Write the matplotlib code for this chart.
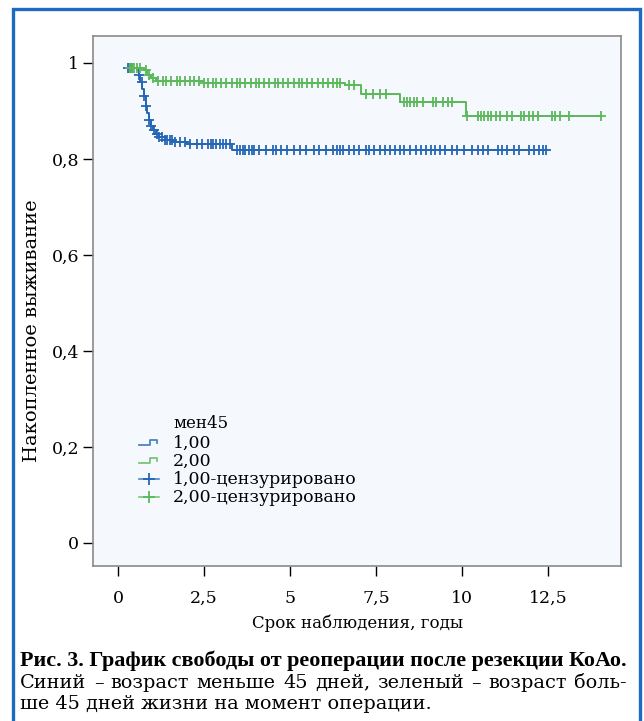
import numpy as np
import matplotlib
matplotlib.use("Agg")
import matplotlib.pyplot as plt
from matplotlib.patches import Rectangle

plt.rcParams["font.family"] = ["DejaVu Serif"]

# Kaplan-Meier steps (years, cumulative survival)
blue_t = [0.28, 0.55, 0.60, 0.65, 0.70, 0.75, 0.80, 0.85, 0.90, 0.95, 1.00,
          1.10, 1.20, 1.35, 1.60, 2.00, 3.30, 12.45]
blue_s = [0.990, 0.985, 0.975, 0.960, 0.945, 0.930, 0.910, 0.895, 0.880,
          0.868, 0.860, 0.852, 0.845, 0.840, 0.835, 0.830, 0.818, 0.818]

green_t = [0.28, 0.75, 0.85, 0.95, 1.10, 2.50, 6.60, 7.05, 8.20, 10.10, 14.05]
green_s = [0.990, 0.985, 0.975, 0.968, 0.962, 0.958, 0.953, 0.935, 0.918,
           0.890, 0.890]

blue_cens = [0.30, 0.35, 0.40, 0.60, 0.68, 0.75, 0.82, 0.90, 0.97, 1.05, 1.12,
             1.20, 1.28, 1.35, 1.42, 1.50, 1.58, 1.65, 1.80, 1.95, 2.10, 2.30,
             2.45, 2.60, 2.70, 2.75, 2.85, 2.95, 3.05, 3.15, 3.25, 3.45, 3.55,
             3.62, 3.70, 3.80, 3.88, 3.95, 4.10, 4.30, 4.50, 4.60, 4.75, 4.90,
             5.10, 5.30, 5.45, 5.70, 5.85, 6.05, 6.25, 6.35, 6.45, 6.55, 6.70,
             6.85, 7.00, 7.20, 7.30, 7.45, 7.60, 7.75, 7.90, 8.05, 8.20, 8.30,
             8.50, 8.65, 8.80, 8.95, 9.10, 9.20, 9.35, 9.50, 9.70, 9.85, 10.05,
             10.30, 10.45, 10.60, 10.75, 11.05, 11.15, 11.30, 11.50, 11.65,
             11.95, 12.10, 12.25, 12.35, 12.45]

green_cens = [0.35, 0.40, 0.45, 0.55, 0.65, 0.80, 0.90, 1.00, 1.15, 1.30, 1.40,
              1.55, 1.70, 1.80, 1.95, 2.10, 2.20, 2.35, 2.50, 2.60, 2.75, 2.85,
              3.00, 3.15, 3.30, 3.45, 3.55, 3.70, 3.85, 4.00, 4.10, 4.25, 4.40,
              4.55, 4.65, 4.80, 4.95, 5.10, 5.25, 5.35, 5.50, 5.65, 5.80, 5.95,
              6.10, 6.25, 6.35, 6.45, 6.70, 6.85, 7.20, 7.40, 7.60, 7.80, 8.30,
              8.40, 8.50, 8.60, 8.70, 8.85, 9.15, 9.25, 9.45, 9.60, 9.70, 10.15,
              10.45, 10.55, 10.65, 10.75, 10.85, 11.00, 11.10, 11.30, 11.45,
              11.70, 11.80, 11.95, 12.05, 12.20, 12.60, 12.70, 12.85, 13.10,
              14.05]

x_ticks = [0, 2.5, 5, 7.5, 10, 12.5]
x_labels = ["0", "2,5", "5", "7,5", "10", "12,5"]
y_ticks = [0, 0.2, 0.4, 0.6, 0.8, 1.0]
y_labels = ["0", "0,2", "0,4", "0,6", "0,8", "1"]

legend_title = "мен45"
legend_labels = ["1,00", "2,00", "1,00-цензурировано", "2,00-цензурировано"]

caption_bold = "Рис. 3. График свободы от реоперации после резекции КоАо."
caption_lines = ["Синий – возраст меньше 45 дней, зеленый – возраст боль-",
                 "ше 45 дней жизни на момент операции."]

BLUE = "#2566b5"
GREEN = "#5cb85a"
W, H = 644, 721


def fx(x):
    return x / W


def fy(y):
    return 1 - y / H


def step_value(times, surv, at):
    idx = np.searchsorted(times, at, side="right") - 1
    return np.asarray(surv)[np.clip(idx, 0, len(surv) - 1)]


def fitted(fig, line, x0, x1, y, **kw):
    """Place text at x0 and scale its font so it ends at x1 (pixels)."""
    r = fig.canvas.get_renderer()
    t = fig.text(fx(x0), fy(y), line, ha="left", va="center", fontsize=10, **kw)
    t.set_fontsize(10 * (x1 - x0) / t.get_window_extent(r).width)
    return t.get_fontsize()


def justified(fig, line, x0, x1, y, **kw):
    """Lay the words of one line out flush between x0 and x1 (pixels)."""
    r = fig.canvas.get_renderer()
    words = line.split(" ")
    arts = [fig.text(0, fy(y), w, ha="left", va="center", **kw) for w in words]
    widths = [a.get_window_extent(r).width for a in arts]
    gap = (x1 - x0 - sum(widths)) / max(len(words) - 1, 1)
    x = x0
    for a, w in zip(arts, widths):
        a.set_x(fx(x))
        x += w + gap


fig = plt.figure(figsize=(W / 100, H / 100), dpi=100)
fig.patch.set_facecolor("white")

# blue frame round the whole figure
fig.patches.append(Rectangle((fx(13), fy(760)), fx(640) - fx(13), fy(9) - fy(760),
                             transform=fig.transFigure, fill=False,
                             edgecolor="#1b6cc0", lw=2.4))

ax = fig.add_axes([fx(93), fy(566), fx(621) - fx(93), fy(36) - fy(566)])
ax.set_facecolor("#f5f9fd")

ax.step(blue_t, blue_s, where="post", color=BLUE, lw=1.4)
ax.step(green_t, green_s, where="post", color=GREEN, lw=1.4)
ax.plot(blue_cens, step_value(blue_t, blue_s, blue_cens), ls="none",
        marker="+", ms=6.5, mew=1.3, color=BLUE)
ax.plot(green_cens, step_value(green_t, green_s, green_cens), ls="none",
        marker="+", ms=6.5, mew=1.3, color=GREEN)

ax.set_xlim(-0.73, 14.62)
ax.set_ylim(-0.048, 1.056)
ax.set_xticks(x_ticks)
ax.set_xticklabels(x_labels)
ax.set_yticks(y_ticks)
ax.set_yticklabels(y_labels)
ax.tick_params(direction="out", length=7, width=1, color="black",
               labelsize=12.5)
ax.tick_params(axis="x", pad=10)
ax.tick_params(axis="y", pad=3)
for sp in ax.spines.values():
    sp.set_color("#8a8a8a")
    sp.set_linewidth(1.2)

fig.text(fx(32), fy(331), "Накопленное выживание", rotation=90,
         ha="center", va="center", fontsize=14)
fig.text(fx(358), fy(623), "Срок наблюдения, годы", ha="center",
         va="center", fontsize=12)

# legend, drawn by hand to get the step-shaped keys
fig.text(fx(173), fy(423), legend_title, ha="left", va="center", fontsize=12)
rows = [443, 461, 479, 497]
cols = [BLUE, GREEN, BLUE, GREEN]
for i, (lab, c, y) in enumerate(zip(legend_labels, cols, rows)):
    if i < 2:
        fig.add_artist(plt.Line2D([fx(139), fx(150), fx(150), fx(157), fx(157)],
                                  [fy(y + 2), fy(y + 2), fy(y - 3), fy(y - 3),
                                   fy(y)], transform=fig.transFigure,
                                  color=c, lw=1.3, alpha=0.8))
    else:
        fig.add_artist(plt.Line2D([fx(139), fx(159)], [fy(y), fy(y)],
                                  transform=fig.transFigure, color=c, lw=1.2,
                                  alpha=0.8))
        fig.add_artist(plt.Line2D([fx(149)], [fy(y)], transform=fig.transFigure,
                                  color=c, marker="+", ms=9, mew=1.3, ls="none"))
    fig.text(fx(173), fy(y), lab, ha="left", va="center", fontsize=12.5)

# caption: bold first line set to full width, body text sized from last line
fitted(fig, caption_bold, 20, 627, 661, fontweight="bold",
       family="Liberation Serif")
body = fitted(fig, caption_lines[1], 20, 430, 704)
justified(fig, caption_lines[0], 20, 627, 683, fontsize=body)

fig.savefig("out.png", dpi=100)
